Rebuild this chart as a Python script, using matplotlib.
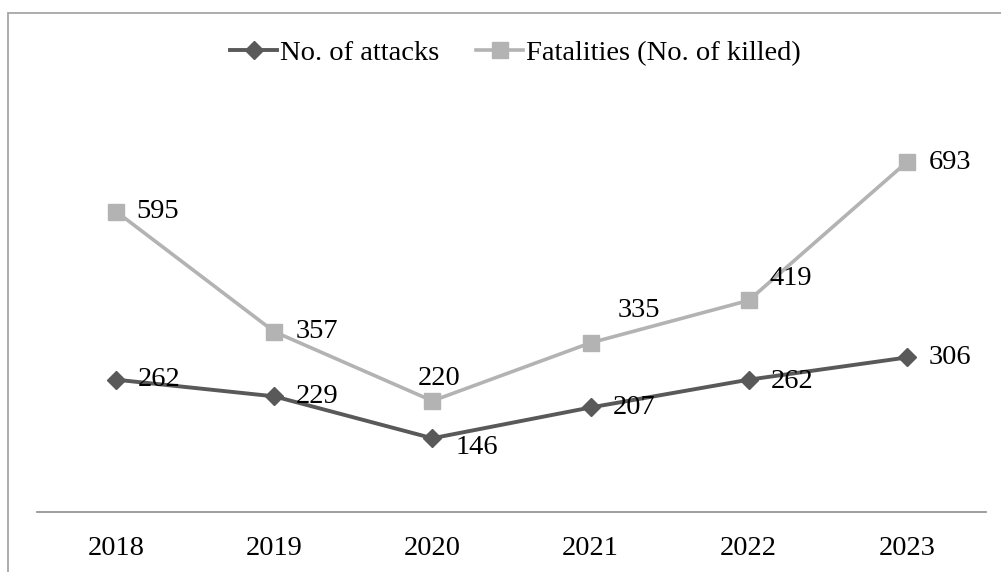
import matplotlib.pyplot as plt
from matplotlib.patches import Rectangle

years = ['2018', '2019', '2020', '2021', '2022', '2023']
attacks = [262, 229, 146, 207, 262, 306]
killed = [595, 357, 220, 335, 419, 693]

# label offsets in points (dx, dy) per point
attack_off = [(31, 0), (31, 0), (32, -7), (31, 0), (31, -1), (31, 0)]
killed_off = [(30, 0), (31, 0), (5, 16), (35, 23), (30, 16), (31, 0)]

plt.rcParams['font.family'] = ['Liberation Serif', 'DejaVu Serif']

fig = plt.figure(figsize=(10.01, 5.72), dpi=100)
ax = fig.add_axes([0.037, 0.1049, 0.948, 0.7063])

x = range(len(years))
ax.plot(x, attacks, color='#595959', lw=2.8, marker='D', ms=9,
        label='No. of attacks', zorder=3)
ax.plot(x, killed, color='#b3b3b3', lw=2.6, marker='s', ms=11,
        label='Fatalities (No. of killed)', zorder=2)

for i, v in enumerate(attacks):
    ax.annotate(str(v), (i, v), xytext=attack_off[i], textcoords='offset points',
                ha='center', va='center', fontsize=20.5, color='black', zorder=4)
for i, v in enumerate(killed):
    ax.annotate(str(v), (i, v), xytext=killed_off[i], textcoords='offset points',
                ha='center', va='center', fontsize=20.5, color='black', zorder=4)

ax.set_xlim(-0.5, 5.5)
ax.set_ylim(0, 800)
ax.set_xticks(list(x))
ax.set_xticklabels(years, fontsize=20.5)
ax.tick_params(axis='x', length=0, pad=17)
ax.set_yticks([])
for side in ['top', 'right', 'left']:
    ax.spines[side].set_visible(False)
ax.spines['bottom'].set_color('#8c8c8c')
ax.spines['bottom'].set_linewidth(1.2)

fig.legend(loc='center', bbox_to_anchor=(0.515, 1 - 53 / 572), ncol=2,
           frameon=False, fontsize=20.5, handlelength=1.65, handletextpad=0.1,
           columnspacing=1.3)

# outer frame, only the left and top edges fall inside the image
fig.patches.append(Rectangle((8 / 1001, -0.1), 1.2, 1 - 13 / 572 + 0.1,
                             transform=fig.transFigure, fill=False,
                             edgecolor='#a6a6a6', lw=1.3))

fig.savefig('out.png', dpi=100)
